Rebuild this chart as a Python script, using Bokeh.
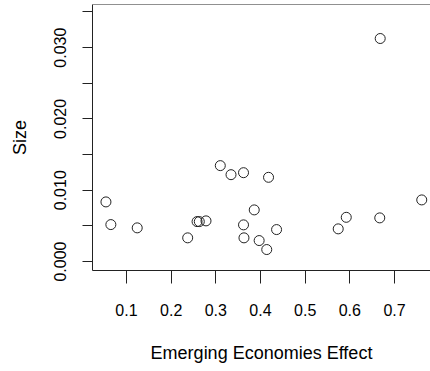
from bokeh.plotting import figure
from bokeh.models import Range1d, FixedTicker, NumeralTickFormatter, Span
from bokeh.embed import file_html
from bokeh.resources import INLINE

# data
effect = [0.054, 0.065, 0.124, 0.237, 0.258, 0.263, 0.278, 0.310, 0.334, 0.362, 0.418,
          0.386, 0.362, 0.363, 0.397, 0.414, 0.436, 0.574, 0.592, 0.667, 0.668, 0.761]
size = [0.00836, 0.00518, 0.00472, 0.00332, 0.00560, 0.00560, 0.00570, 0.01345, 0.01218,
        0.01246, 0.01181, 0.00724, 0.00514, 0.00332, 0.00294, 0.00168, 0.00448, 0.00458,
        0.00620, 0.00612, 0.03128, 0.00864]
x_ticks = [0.1, 0.2, 0.3, 0.4, 0.5, 0.6, 0.7]
y_ticks = [0.0, 0.01, 0.02, 0.03]
y_minor = [0.005, 0.015, 0.025, 0.035]

FONT = "Liberation Sans"
INK = "#222222"
Y_TOP = 0.03605

p = figure(width=430, height=371, output_backend="svg", toolbar_location=None,
           x_range=Range1d(0.0239, 0.7806), y_range=Range1d(-0.00126, Y_TOP),
           min_border_left=92, min_border_right=0, min_border_top=4, min_border_bottom=101)
p.outline_line_color = None
p.background_fill_color = "white"
p.border_fill_color = "white"
p.grid.visible = False

p.scatter(effect, size, marker="circle", size=10, fill_color=None,
          line_color=INK, line_width=1)

# x axis
xa = p.xaxis[0]
xa.ticker = FixedTicker(ticks=x_ticks, minor_ticks=[])
xa.axis_label = "Emerging Economies Effect"
xa.major_tick_out = 13
xa.major_tick_in = 0
xa.major_label_standoff = 20
xa.axis_label_standoff = 24

# y axis
ya = p.yaxis[0]
ya.ticker = FixedTicker(ticks=y_ticks, minor_ticks=y_minor)
ya.formatter = NumeralTickFormatter(format="0.000")
ya.axis_label = "Size"
ya.major_tick_out = 10
ya.major_tick_in = 0
ya.minor_tick_out = 10
ya.minor_tick_in = 0
ya.major_label_orientation = "vertical"
ya.major_label_standoff = 16
ya.axis_label_standoff = 22

for ax in (xa, ya):
    ax.axis_line_color = INK
    ax.major_tick_line_color = INK
    ax.minor_tick_line_color = INK
    ax.major_label_text_font = FONT
    ax.major_label_text_font_size = "16px"
    ax.major_label_text_color = "black"
    ax.axis_label_text_font = FONT
    ax.axis_label_text_font_size = "18px"
    ax.axis_label_text_font_style = "normal"
    ax.axis_label_text_color = "black"

# top border of the plot box
p.add_layout(Span(location=Y_TOP, dimension="width", line_color=INK, line_width=1))

open("out.html", "w").write(file_html(p, INLINE))
